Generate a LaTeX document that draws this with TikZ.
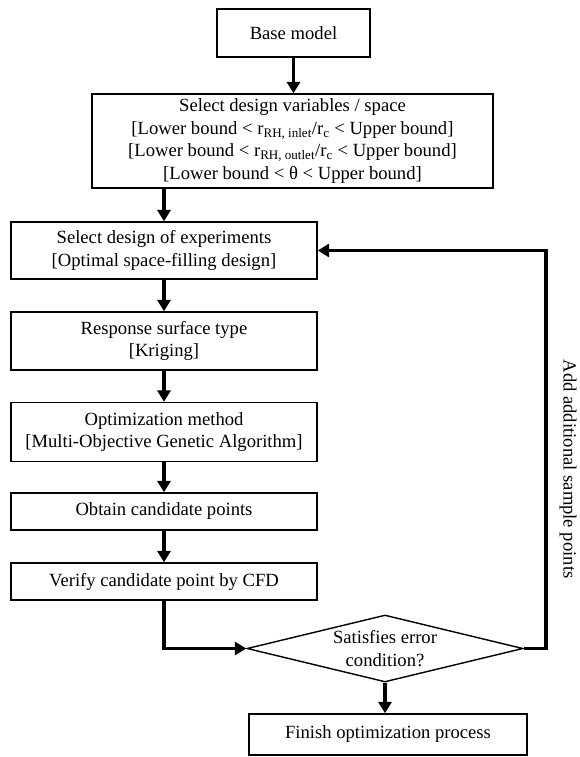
\documentclass[tikz,border=0pt]{standalone}
\usepackage{fontspec}
\setmainfont{Liberation Serif}
\usetikzlibrary{arrows.meta,shapes.geometric}
\begin{document}
\begin{tikzpicture}[x=0.03cm,y=-0.03cm,line cap=butt,line join=miter,
    font=\fontsize{15.9}{19.2}\selectfont,
    box/.style={draw,line width=1.2pt,align=center,inner sep=0pt},
    decision/.style={draw,line width=1.2pt,shape=diamond,aspect=4.12,inner sep=0pt,align=center},
    arr/.style={line width=2.6pt,-{Triangle[length=3.4mm,width=3.9mm]}}]
  \useasboundingbox (0,0) rectangle (579,757);
  \node[box,minimum width=4.59cm,minimum height=1.44cm] (base) at (293.5,33) {Base model};
  \node[box,minimum width=12.03cm,minimum height=2.82cm] (design) at (292.5,141)
    {Select design variables / space\\
     {[}Lower bound < r\textsubscript{RH, inlet}/r\textsubscript{c} < Upper bound]\\
     {[}Lower bound < r\textsubscript{RH, outlet}/r\textsubscript{c} < Upper bound]\\
     {[}Lower bound < θ < Upper bound]};
  \node[box,minimum width=9.18cm,minimum height=1.71cm] (doe) at (164,250.5)
    {Select design of experiments\\ {[}Optimal space-filling design]};
  \node[box,minimum width=9.18cm,minimum height=1.74cm] (rsm) at (164,341)
    {Response surface type\\ {[}Kriging]};
  \node[box,minimum width=9.18cm,minimum height=1.77cm] (optim) at (164,432)
    {Optimization method\\ {[}Multi-Objective Genetic Algorithm]};
  \node[box,minimum width=9.18cm,minimum height=1.11cm] (obtain) at (164,511.5)
    {Obtain candidate points};
  \node[box,minimum width=9.18cm,minimum height=1.11cm] (verify) at (164,581.5)
    {Verify candidate point by CFD};
  \node[decision,minimum width=8.28cm,minimum height=2.01cm] (check) at (385,648.5)
    {Satisfies error\\ condition?};
  \node[box,minimum width=8.34cm,minimum height=1.23cm] (finish) at (388,734.5)
    {Finish optimization process};
  \coordinate (loop) at (546,648.5);
  \draw[arr] (base.south) -- (base.south |- design.north);
  \draw[arr] (doe.north |- design.south) -- (doe.north);
  \draw[arr] (doe) -- (rsm);
  \draw[arr] (rsm) -- (optim);
  \draw[arr] (optim) -- (obtain);
  \draw[arr] (obtain) -- (verify);
  \draw[arr] (verify.south) |- (check.west);
  \draw[arr] (check.south) -- (check.south |- finish.north);
  \draw[arr] (check.east) -- (loop) |- (doe.east);
  \node[rotate=-90] (addpts) at (568,469) {Add additional sample points};
\end{tikzpicture}
\end{document}
